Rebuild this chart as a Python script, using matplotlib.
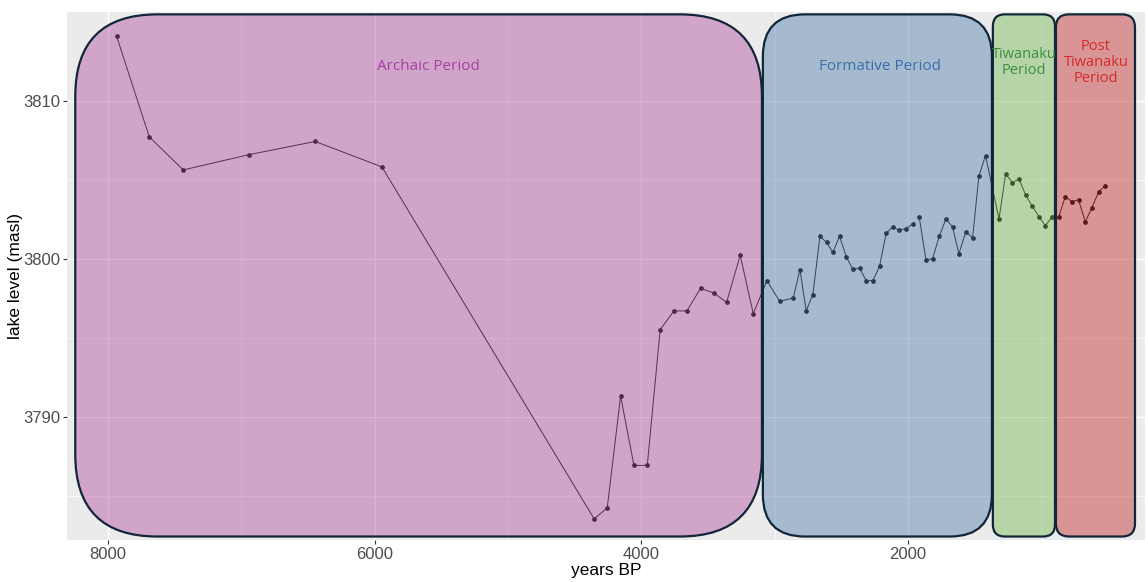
import numpy as np
import matplotlib.pyplot as plt
from matplotlib.colors import to_rgb
from matplotlib.patches import FancyBboxPatch

# lake level reconstruction (years BP, masl); NaN marks a gap in the record
years = [7935, 7690, 7435, 6940, 6445, 5945,
         4353, 4255, 4155, 4055, 3955, 3858, 3755, 3658, 3555, 3457, 3360, 3258, 3160,
         3058, 2962, 2860, 2810, 2763, 2713, 2660, 2610, 2563, 2513, 2463, 2413, 2363,
         2313, 2263, 2213, 2163, 2115, 2065, 2015, 1965, 1940, 1915, 1865, 1815, 1765,
         1715, 1665, 1618, 1565, 1515, 1468, 1418,
         1317, 1267, 1217, 1167, 1117, 1067, 1017, 970, 920,
         870, 820, 770, 720, 670, 620, 570, 520]
level = [3814.07, 3807.70, 3805.61, 3806.58, 3807.41, 3805.80,
         3783.53, 3784.24, 3791.31, 3786.92, 3786.92, 3795.51, 3796.69, 3796.69, 3798.12,
         3797.83, 3797.23, 3800.21, 3796.52,
         3798.61, 3797.30, 3797.51, 3799.30, 3796.71, 3797.72, 3801.41, 3801.03, 3800.40,
         3801.41, 3800.13, 3799.32, 3799.41, 3798.61, 3798.61, 3799.51, 3801.60, 3802.00,
         3801.79, 3801.90, 3802.19, np.nan, 3802.61, 3799.92, 3800.00, 3801.41, 3802.51,
         3802.00, 3800.30, 3801.71, 3801.31, 3805.21, 3806.52,
         3802.51, 3805.36, 3804.81, 3805.04, 3804.01, 3803.31, 3802.64, 3802.09, 3802.61,
         3802.61, 3803.92, 3803.61, 3803.72, 3802.32, 3803.23, 3804.22, 3804.62]

periods = ['Archaic Period', 'Formative Period', 'Tiwanaku\nPeriod', 'Post\nTiwanaku\nPeriod']
period_start = [8245, 3088, 1363, 890]
period_end = [3095, 1370, 897, 297]
period_label_x = [5593, 2210, 1130, 590]
period_label_y = [3812.15, 3812.15, 3812.4, 3812.4]
fill_colors = ['#AA3C98', '#3C6EA5', '#64B444', '#C01616']
text_colors = ['#A63FA6', '#3C6EAA', '#3E8E3E', '#D42A2A']
corner_px = [82, 42, 12, 13]

box_top, box_bottom = 3815.45, 3782.42
xlim = (8307, 222)
ylim = (3782.2, 3815.6)

W, H, DPI = 11.48, 5.82, 100
fig = plt.figure(figsize=(W, H), dpi=DPI)
ax_left, ax_bottom = 67 / 1148, 42 / 582
ax_w, ax_h = (1145 - 67) / 1148, (540 - 12) / 582
ax = fig.add_axes([ax_left, ax_bottom, ax_w, ax_h])

ax.set_facecolor('#EBEBEB')
for s in ax.spines.values():
    s.set_visible(False)
ax.set_xlim(*xlim)
ax.set_ylim(*ylim)
ax.set_xticks([8000, 6000, 4000, 2000])
ax.set_xticks([7000, 5000, 3000, 1000], minor=True)
ax.set_yticks([3790, 3800, 3810])
ax.set_yticks([3785, 3795, 3805], minor=True)
ax.grid(which='major', color='white', linewidth=1.0)
ax.grid(which='minor', color='white', linewidth=0.5)
ax.set_axisbelow(True)
ax.tick_params(which='major', length=3, color='#333333', labelcolor='#4D4D4D',
               labelsize=12, pad=2)
ax.tick_params(which='minor', length=0)
for lab in ax.get_xticklabels() + ax.get_yticklabels():
    lab.set_family('Liberation Sans')

ax.set_xlabel('years BP', family='Liberation Sans', fontsize=12.5, labelpad=1)
ax.set_ylabel('lake level (masl)', family='Liberation Sans', fontsize=12.5, labelpad=0)

ax.plot(years, level, color='#262626', linewidth=0.7, zorder=2)
ax.plot(years, level, 'o', color='#1A1A1A', markersize=2.4, zorder=2)

# pixels per data unit, for the rounded corners
px_x = ax_w * W * DPI / abs(xlim[0] - xlim[1])
px_y = ax_h * H * DPI / abs(ylim[1] - ylim[0])

for name, x0, x1, lx, ly, fc, tc, r in zip(periods, period_start, period_end,
                                           period_label_x, period_label_y,
                                           fill_colors, text_colors, corner_px):
    box = FancyBboxPatch((x1, box_bottom), x0 - x1, box_top - box_bottom,
                         boxstyle=f'round,pad=0,rounding_size={r / px_x}',
                         mutation_aspect=px_x / px_y,
                         facecolor=(*to_rgb(fc), 0.4),
                         edgecolor='#12263A', linewidth=1.6, zorder=3)
    ax.add_patch(box)
    fs = 11 if '\n' not in name else 10.5
    ax.text(lx, ly, name, color=tc, ha='center', va='center', fontsize=fs,
            family='Open Sans', linespacing=1.1, zorder=4)

fig.savefig('out.png', dpi=DPI)
